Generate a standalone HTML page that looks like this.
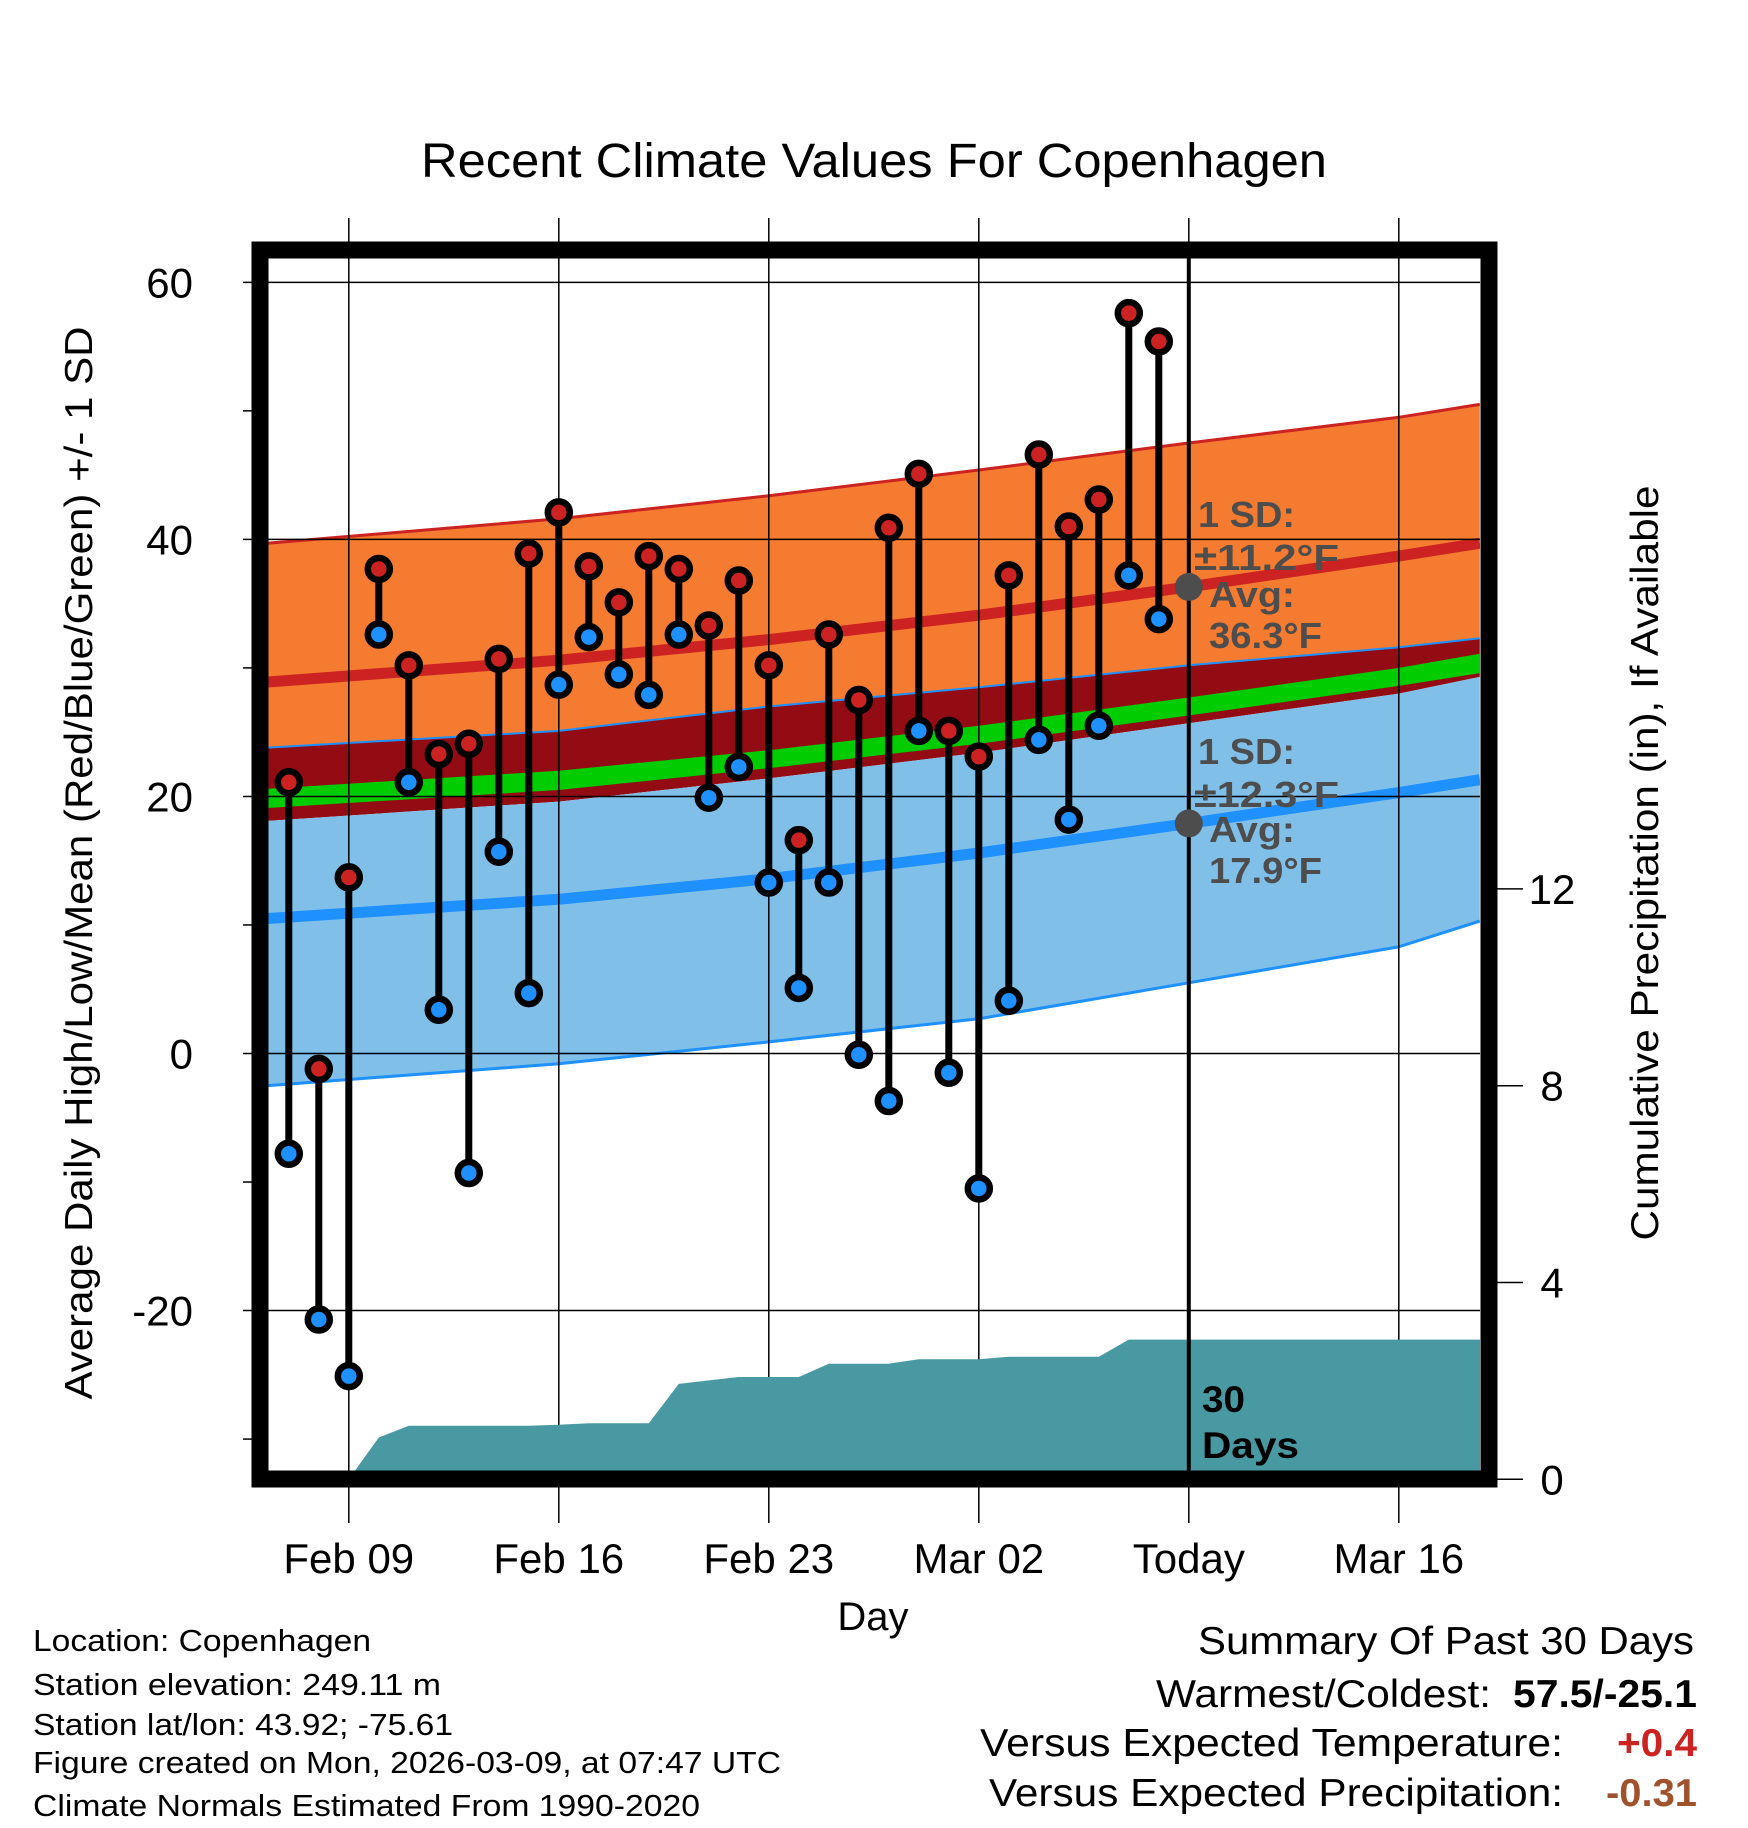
<!DOCTYPE html>
<html><head><meta charset="utf-8">
<style>
html,body{margin:0;padding:0;background:#fff;}
svg{display:block;font-family:"Liberation Sans",sans-serif;}
</style></head>
<body>
<svg id="chart" width="1748" height="1828" viewBox="0 0 1748 1828" xmlns="http://www.w3.org/2000/svg">
<defs><clipPath id="plotClip"><rect x="268" y="258" width="1212" height="1213"/></clipPath></defs>
<rect x="0" y="0" width="1748" height="1828" fill="#fff"/>
<g id="bands" clip-path="url(#plotClip)"></g>
<g id="grid"></g>
<g id="precip" clip-path="url(#plotClip)"></g>
<g id="marks"></g>
<g id="labels"></g>
<rect x="260" y="250" width="1229" height="1229" fill="none" stroke="#000" stroke-width="17"/>
<text x="874" y="177" font-size="48" text-anchor="middle" textLength="906" lengthAdjust="spacingAndGlyphs">Recent Climate Values For Copenhagen</text>
<text transform="translate(92,863) rotate(-90)" font-size="39" text-anchor="middle" textLength="1073" lengthAdjust="spacingAndGlyphs">Average Daily High/Low/Mean (Red/Blue/Green) +/- 1 SD</text>
<text transform="translate(1658,863) rotate(-90)" font-size="39" text-anchor="middle" textLength="755" lengthAdjust="spacingAndGlyphs">Cumulative Precipitation (in), If Available</text>
<text x="873" y="1630" font-size="40" text-anchor="middle">Day</text>
<g font-size="31" lengthAdjust="spacingAndGlyphs">
<text x="33" y="1651" textLength="338" lengthAdjust="spacingAndGlyphs">Location: Copenhagen</text>
<text x="33" y="1695" textLength="408" lengthAdjust="spacingAndGlyphs">Station elevation: 249.11 m</text>
<text x="33" y="1735" textLength="420" lengthAdjust="spacingAndGlyphs">Station lat/lon: 43.92; -75.61</text>
<text x="33" y="1773" textLength="748" lengthAdjust="spacingAndGlyphs">Figure created on Mon, 2026-03-09, at 07:47 UTC</text>
<text x="33" y="1816" textLength="667" lengthAdjust="spacingAndGlyphs">Climate Normals Estimated From 1990-2020</text>
</g>
<g font-size="39">
<text x="1694" y="1654" text-anchor="end" textLength="496" lengthAdjust="spacingAndGlyphs">Summary Of Past 30 Days</text>
<text x="1491" y="1707" text-anchor="end" textLength="335" lengthAdjust="spacingAndGlyphs">Warmest/Coldest:</text>
<text x="1697" y="1707" text-anchor="end" font-weight="bold" textLength="184" lengthAdjust="spacingAndGlyphs">57.5/-25.1</text>
<text x="1563" y="1756" text-anchor="end" textLength="583" lengthAdjust="spacingAndGlyphs">Versus Expected Temperature:</text>
<text x="1697" y="1756" text-anchor="end" font-weight="bold" fill="#cc2222" textLength="80" lengthAdjust="spacingAndGlyphs">+0.4</text>
<text x="1563" y="1806" text-anchor="end" textLength="574" lengthAdjust="spacingAndGlyphs">Versus Expected Precipitation:</text>
<text x="1697" y="1806" text-anchor="end" font-weight="bold" fill="#a0522d" textLength="91" lengthAdjust="spacingAndGlyphs">-0.31</text>
</g>
<script>
// Data
const dayLabels = ["Feb 09","Feb 16","Feb 23","Mar 02","Today","Mar 16"];
const dayLabelOffsets = [0,7,14,21,28,35];
const obsDays = [-2,-1,0,1,2,3,4,5,6,7,8,9,10,11,12,13,14,15,16,17,18,19,20,21,22,23,24,25,26,27];
const highs = [21.1,-1.2,13.7,37.7,30.2,23.3,24.1,30.7,38.9,42.1,37.9,35.1,38.7,37.7,33.3,36.8,30.2,16.6,32.6,27.5,40.9,45.1,25.1,23.1,37.2,46.6,41.0,43.1,57.6,55.4];
const lows = [-7.8,-20.7,-25.1,32.6,21.1,3.4,-9.3,15.7,4.7,28.7,32.4,29.5,27.9,32.6,19.9,22.3,13.3,5.1,13.3,-0.1,-3.7,25.1,-1.5,-10.5,4.1,24.4,18.2,25.5,37.2,33.8];
const precipDays = [0,1,2,3,4,5,6,7,8,9,10,11,12,13,14,15,16,17,18,19,20,21,22,23,24,25,26,27,28,29,30,31,32,33,34,35,36,37,38];
const precip = [0,0.85,1.09,1.09,1.09,1.09,1.09,1.11,1.14,1.14,1.14,1.94,2.01,2.08,2.08,2.08,2.35,2.35,2.35,2.44,2.44,2.44,2.49,2.49,2.49,2.49,2.84,2.84,2.84,2.84,2.84,2.84,2.84,2.84,2.84,2.84,2.84,2.84,2.84];
const normDays = [-2.7,7,14,21,28,35,37.7];
const hiUpper = [39.7,41.6,43.4,45.4,47.5,49.5,50.5];
const hiAvg = [28.9,30.6,32.2,34.1,36.3,38.7,39.7];
const hiLower = [23.8,25.1,27.0,28.5,30.2,31.6,32.3];
const greenTop = [20.6,22.0,23.6,25.5,27.7,30.0,31.1];
const greenBot = [19.1,20.5,22.2,24.1,26.3,28.6,29.6];
const loUpper = [18.1,19.6,21.4,23.4,25.7,28.0,29.3];
const loAvg = [10.5,12.0,13.6,15.6,17.9,20.3,21.3];
const loLower = [-2.5,-0.8,0.9,2.7,5.5,8.3,10.3];
const tempTicks = [60,40,20,0,-20];
const tempMinor = [50,30,10,-10,-30];
const precipTicks = [0,4,8,12];

const NS="http://www.w3.org/2000/svg";
function X(d){return 348.8+30*d;}
function Y(t){return 1053.5-12.853*t;}
function YP(p){return 1479.3-49.2*p;}
function mk(tag,attrs,parent){const e=document.createElementNS(NS,tag);for(const k in attrs)e.setAttribute(k,attrs[k]);parent.appendChild(e);return e;}
function line(arr){return normDays.map((d,i)=>X(d).toFixed(1)+","+Y(arr[i]).toFixed(1)).join(" ");}
function band(top,bot){const a=normDays.map((d,i)=>X(d).toFixed(1)+","+Y(top[i]).toFixed(1));const b=normDays.map((d,i)=>X(d).toFixed(1)+","+Y(bot[i]).toFixed(1)).reverse();return a.concat(b).join(" ");}

const bands=document.getElementById('bands');
let e;
e=mk('polygon',{points:band(hiUpper,hiLower),fill:'#f47b30'},bands);


e=mk('polygon',{points:band(hiLower,loUpper),fill:'#930c14'},bands);


e=mk('polygon',{points:band(greenTop,greenBot),fill:'#00cc00'},bands);


e=mk('polygon',{points:band(loUpper,loLower),fill:'#80c0e8'},bands);


e=mk('polyline',{points:line(hiUpper),fill:'none',stroke:'#cc2222','stroke-width':3},bands);


e=mk('polyline',{points:line(hiLower),fill:'none',stroke:'#1e90ff','stroke-width':2},bands);


e=mk('polyline',{points:line(loLower),fill:'none',stroke:'#1e90ff','stroke-width':3},bands);


e=mk('polyline',{points:line(hiAvg),fill:'none',stroke:'#cc2222','stroke-width':11},bands);


e=mk('polyline',{points:line(loAvg),fill:'none',stroke:'#1e90ff','stroke-width':11},bands);



const grid=document.getElementById('grid');
tempTicks.forEach(t=>{
  const g=mk('line',{x1:243,x2:1480,y1:Y(t),y2:Y(t),stroke:'#000','stroke-width':1.5},grid);
  
  
  const l=mk('text',{x:193,y:Y(t)+15,'font-size':42,'text-anchor':'end'},grid);
  l.textContent=String(t);
  
  
});
tempMinor.forEach(t=>{
  const g=mk('line',{x1:243,x2:253,y1:Y(t),y2:Y(t),stroke:'#000','stroke-width':1.5},grid);
  
  
});
dayLabelOffsets.forEach((d,i)=>{
  const g=mk('line',{x1:X(d),x2:X(d),y1:218,y2:1523,stroke:'#000','stroke-width':1.5},grid);
  
  
  const l=mk('text',{x:X(d),y:1573,'font-size':42,'text-anchor':'middle'},grid);
  l.textContent=dayLabels[i];
  
  
});
precipTicks.forEach(p=>{
  const g=mk('line',{x1:1490,x2:1523,y1:YP(p),y2:YP(p),stroke:'#000','stroke-width':1.5},grid);
  
  
  const l=mk('text',{x:1552,y:YP(p)+15,'font-size':42,'text-anchor':'middle'},grid);
  l.textContent=String(p);
  
  
});

const pg=document.getElementById('precip');
let pts=precipDays.map((d,i)=>X(d).toFixed(1)+","+YP(precip[i]).toFixed(1));
pts.push(X(38)+","+YP(0));pts.push(X(0)+","+YP(0));
e=mk('polygon',{points:pts.join(" "),fill:'#4899a1'},pg);



const marks=document.getElementById('marks');
e=mk('line',{x1:X(28),x2:X(28),y1:258,y2:1471,stroke:'#000','stroke-width':4},marks);


obsDays.forEach((d,i)=>{
  const s=mk('line',{x1:X(d),x2:X(d),y1:Y(highs[i]),y2:Y(lows[i]),stroke:'#000','stroke-width':7},marks);
  
  
});
obsDays.forEach((d,i)=>{
  const h=mk('circle',{cx:X(d),cy:Y(highs[i]),r:11,fill:'#cc2222',stroke:'#000','stroke-width':6.5},marks);
  
  
  const l=mk('circle',{cx:X(d),cy:Y(lows[i]),r:11,fill:'#1e90ff',stroke:'#000','stroke-width':6.5},marks);
  
  
});
e=mk('circle',{cx:X(28),cy:Y(36.3),r:14,fill:'#4d4d4d'},marks);


e=mk('circle',{cx:X(28),cy:Y(17.9),r:14,fill:'#4d4d4d'},marks);



const lab=document.getElementById('labels');
const sdText=[["1 SD:",1198,527,97],["±11.2°F",1194,570,145],["Avg:",1209,607,86],["36.3°F",1209,648,113],["1 SD:",1198,764,97],["±12.3°F",1194,807,145],["Avg:",1209,842,86],["17.9°F",1209,883,113]];
sdText.forEach(t=>{
  const el=mk('text',{x:t[1],y:t[2],'font-size':36,'font-weight':'bold',fill:'#4d4d4d',textLength:t[3],lengthAdjust:'spacingAndGlyphs'},lab);
  el.textContent=t[0];
  
  
});
[["30",1412,43],["Days",1458,97]].forEach(t=>{
  const el=mk('text',{x:1202,y:t[1],'font-size':37,'font-weight':'bold',fill:'#000',textLength:t[2],lengthAdjust:'spacingAndGlyphs'},lab);
  el.textContent=t[0];
  
  
});
</script>
</svg>
</body></html>
